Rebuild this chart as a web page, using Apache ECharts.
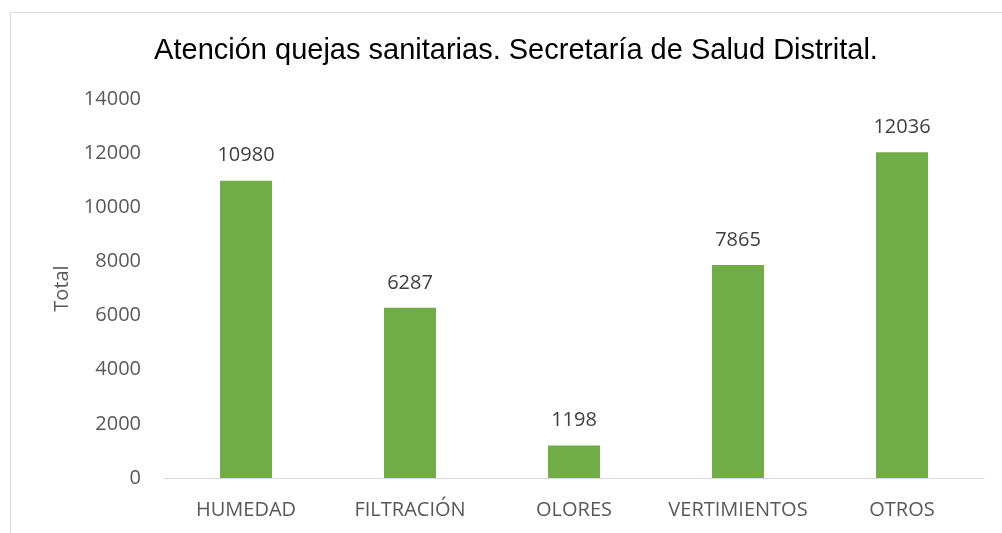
<!DOCTYPE html>
<html>
<head>
<meta charset="utf-8">
<script src="https://cdn.jsdelivr.net/npm/echarts@6/dist/echarts.min.js"></script>
<style>
  html, body { margin: 0; padding: 0; background: #fff; }
  #main { width: 1002px; height: 533px; }
</style>
</head>
<body>
<div id="main"></div>
<script>
// datos del grafico
const categorias = ['HUMEDAD', 'FILTRACIÓN', 'OLORES', 'VERTIMIENTOS', 'OTROS'];
const totales = [10980, 6287, 1198, 7865, 12036];
const titulo = 'Atención quejas sanitarias. Secretaría de Salud Distrital.';

let chart = echarts.init(document.getElementById('main'));
chart.setOption({
    animation: false,
    backgroundColor: '#fff',
    graphic: [{
        type: 'rect',
        shape: { x: 10.5, y: 12.5, width: 1100, height: 600 },
        style: { fill: 'none', stroke: '#d9d9d9', lineWidth: 1 },
        silent: true
    }],
    title: {
        text: titulo,
        left: 511,
        top: 31,
        textAlign: 'center',
        textStyle: {
            fontFamily: 'Liberation Sans',
            fontSize: 29,
            fontWeight: 'normal',
            color: '#000'
        }
    },
    grid: {
        left: 164,
        right: 18,
        top: 99,
        bottom: 55,
        containLabel: false
    },
    xAxis: {
        type: 'category',
        data: categorias,
        axisLine: { lineStyle: { color: '#d9d9d9', width: 1 } },
        axisTick: { show: false },
        axisLabel: {
            interval: 0,
            color: '#595959',
            fontFamily: 'Open Sans',
            fontSize: 20,
            margin: 22
        }
    },
    yAxis: {
        type: 'value',
        min: 0,
        max: 14000,
        interval: 2000,
        name: 'Total',
        nameLocation: 'middle',
        nameRotate: 90,
        nameGap: 92,
        nameTextStyle: {
            color: '#595959',
            fontFamily: 'Open Sans',
            fontSize: 20
        },
        axisLine: { show: false },
        axisTick: { show: false },
        splitLine: { show: false },
        axisLabel: {
            color: '#595959',
            fontFamily: 'Open Sans',
            fontSize: 20,
            margin: 23,
            formatter: v => String(v)
        }
    },
    series: [{
        name: 'Total',
        type: 'bar',
        data: totales,
        barWidth: 52,
        itemStyle: { color: '#70AD47' },
        label: {
            show: true,
            position: 'top',
            distance: 15,
            color: '#404040',
            fontFamily: 'Open Sans',
            fontSize: 20
        }
    }]
});
</script>
</body>
</html>
